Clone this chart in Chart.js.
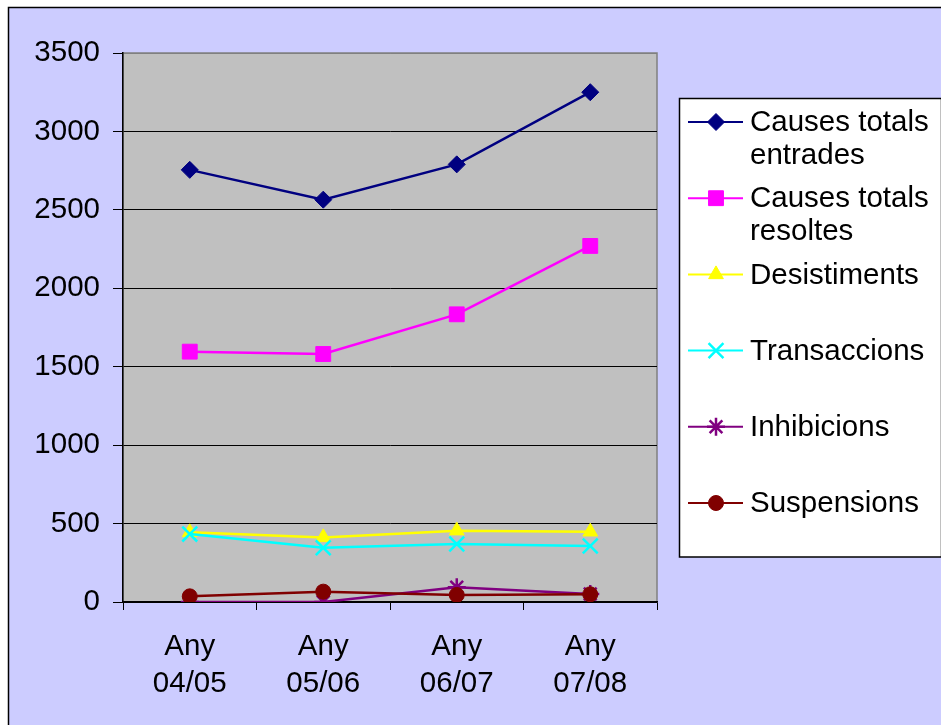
<!DOCTYPE html>
<html>
<head>
<meta charset="utf-8">
<script src="https://cdn.jsdelivr.net/npm/chart.js@4"></script>
<style>
  html, body { margin: 0; padding: 0; background: #fff; }
  canvas { display: block; }
</style>
</head>
<body>
<canvas id="grafic" width="941" height="725"></canvas>
<script>
// dades llegides del gràfic
const anys = [['Any', '04/05'], ['Any', '05/06'], ['Any', '06/07'], ['Any', '07/08']];
const entrades = [2755, 2565, 2790, 3250];
const resoltes = [1596, 1581, 1834, 2270];
const desistiments = [444, 412, 455, 448];
const transaccions = [433, 346, 370, 357];
const inhibicions = [0, 0, 94, 51];
const suspensions = [36, 66, 45, 49];
const ticksY = [0, 500, 1000, 1500, 2000, 2500, 3000, 3500];

const FONT = '"Liberation Sans", Arial, sans-serif';

function serie(label, data, color, style, radius, bw) {
  return {
    label: label,
    data: data,
    borderColor: color,
    backgroundColor: color,
    borderWidth: 2.5,
    pointStyle: style,
    pointRadius: radius,
    pointHoverRadius: radius,
    pointBorderWidth: bw,
    pointBorderColor: color,
    pointBackgroundColor: color,
    tension: 0
  };
}

const series = [
  serie('Causes totals entrades', entrades, '#000080', 'rectRot', 8.5, 1),
  serie('Causes totals resoltes', resoltes, '#FF00FF', 'rect', 10.5, 1),
  serie('Desistiments', desistiments, '#FFFF00', 'triangle', 8.5, 1),
  serie('Transaccions', transaccions, '#00FFFF', 'crossRot', 10.5, 2.5),
  serie('Inhibicions', inhibicions, '#800080', 'star', 9, 2.5),
  serie('Suspensions', suspensions, '#800000', 'circle', 7.5, 1)
];
// les sèries posteriors es dibuixen a sobre
series.forEach((s, i) => { s.order = series.length - i; });

const fons = {
  id: 'fons',
  beforeDraw(chart) {
    const ctx = chart.ctx;
    const a = chart.chartArea;
    ctx.save();
    ctx.fillStyle = '#fff';
    ctx.fillRect(0, 0, chart.width, chart.height);
    ctx.fillStyle = '#CCCCFF';
    ctx.fillRect(8, 7, chart.width - 8, chart.height - 7);
    ctx.strokeStyle = '#000';
    ctx.lineWidth = 1.5;
    ctx.beginPath();
    ctx.moveTo(8.5, chart.height);
    ctx.lineTo(8.5, 7.5);
    ctx.lineTo(chart.width, 7.5);
    ctx.stroke();
    ctx.fillStyle = '#C0C0C0';
    ctx.fillRect(a.left, a.top, a.right - a.left, a.bottom - a.top);
    ctx.strokeStyle = '#808080';
    ctx.lineWidth = 1.5;
    ctx.strokeRect(a.left, a.top, a.right - a.left, a.bottom - a.top);
    ctx.restore();
  }
};

const llegenda = {
  id: 'llegenda',
  afterDraw(chart) {
    const ctx = chart.ctx;
    ctx.save();
    ctx.fillStyle = '#fff';
    ctx.fillRect(679, 98, 262, 459);
    ctx.strokeStyle = '#000';
    ctx.lineWidth = 1.5;
    ctx.strokeRect(679.5, 98.5, 262, 458.5);
    ctx.font = '29.5px ' + FONT;
    ctx.textBaseline = 'middle';
    chart.data.datasets.forEach((ds, i) => {
      const y = 122 + i * 76.2;
      ctx.strokeStyle = ds.borderColor;
      ctx.lineWidth = 2;
      ctx.beginPath();
      ctx.moveTo(688, y);
      ctx.lineTo(743, y);
      ctx.stroke();
      ctx.fillStyle = ds.pointBackgroundColor;
      ctx.strokeStyle = ds.pointBorderColor;
      ctx.lineWidth = ds.pointBorderWidth;
      Chart.helpers.drawPoint(ctx, {
        pointStyle: ds.pointStyle,
        radius: ds.pointRadius,
        rotation: 0,
        borderWidth: ds.pointBorderWidth
      }, 716, y);
      // ajust del text en línies
      const words = ds.label.split(' ');
      const lines = [];
      let cur = '';
      words.forEach(w => {
        const t = cur ? cur + ' ' + w : w;
        if (ctx.measureText(t).width > 186 && cur) { lines.push(cur); cur = w; }
        else cur = t;
      });
      lines.push(cur);
      ctx.fillStyle = '#000';
      lines.forEach((l, j) => ctx.fillText(l, 750, y + 1 + j * 33));
    });
    ctx.restore();
  }
};

new Chart(document.getElementById('grafic').getContext('2d'), {
  type: 'line',
  data: { labels: anys, datasets: series },
  plugins: [fons, llegenda],
  options: {
    responsive: false,
    animation: false,
    devicePixelRatio: 1,
    layout: { padding: { left: 0, top: 53, right: 284, bottom: 0 } },
    plugins: { legend: { display: false }, tooltip: { enabled: false } },
    scales: {
      x: {
        offset: true,
        afterFit(scale) { scale.height = 123; },
        grid: { offset: true, drawOnChartArea: false, drawTicks: true, tickLength: 8, tickColor: '#000', tickWidth: 1 },
        border: { color: '#000', width: 1.5 },
        ticks: { color: '#000', font: { family: FONT, size: 29.5, lineHeight: 1.27 }, padding: 18, maxRotation: 0, autoSkip: false }
      },
      y: {
        min: 0,
        max: 3500,
        afterFit(scale) { scale.width = 123; },
        afterBuildTicks(scale) { scale.ticks = ticksY.map(v => ({ value: v })); },
        grid: {
          color: ctx => (ctx.tick && ctx.tick.value === 3500 ? '#808080' : '#000'),
          lineWidth: 1,
          drawTicks: true,
          tickLength: 10,
          tickColor: '#000'
        },
        border: { color: '#000', width: 1.5 },
        ticks: { color: '#000', font: { family: FONT, size: 29.5 }, padding: 13, callback: v => String(v) }
      }
    }
  }
});
</script>
</body>
</html>
